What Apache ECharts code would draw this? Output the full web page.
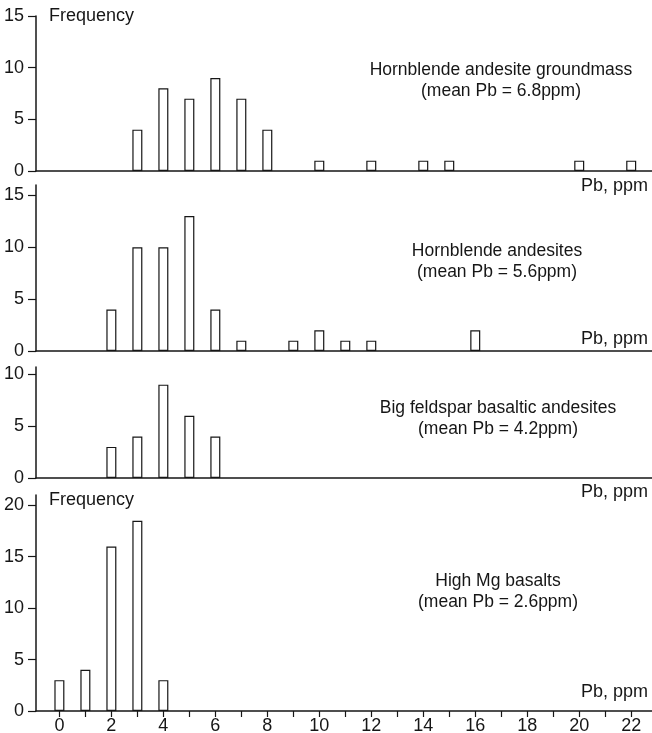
<!DOCTYPE html>
<html>
<head>
<meta charset="utf-8">
<title>Pb frequency distributions</title>
<script src="https://cdn.jsdelivr.net/npm/echarts@6/dist/echarts.min.js"></script>
<style>
  html, body { margin: 0; padding: 0; background: #ffffff; }
  #chart { width: 652px; height: 733px; }
</style>
</head>
<body>
<div id="chart"></div>
<script>
// Pb content (ppm) classes and their sample counts, one pair of arrays per rock group
const groundmassPb   = [3, 4, 5, 6, 7, 8, 10, 12, 14, 15, 20, 22];
const groundmassFreq = [4, 8, 7, 9, 7, 4, 1, 1, 1, 1, 1, 1];

const hornblendePb   = [2, 3, 4, 5, 6, 7, 9, 10, 11, 12, 16];
const hornblendeFreq = [4, 10, 10, 13, 4, 1, 1, 2, 1, 1, 2];

const feldsparPb     = [2, 3, 4, 5, 6];
const feldsparFreq   = [3, 4, 9, 6, 4];

const highMgPb       = [0, 1, 2, 3, 4];
const highMgFreq     = [3, 4, 16, 18.5, 3];

const panelTitles = [
  ['Hornblende andesite groundmass', '(mean Pb = 6.8ppm)'],
  ['Hornblende andesites', '(mean Pb = 5.6ppm)'],
  ['Big feldspar basaltic andesites', '(mean Pb = 4.2ppm)'],
  ['High Mg basalts', '(mean Pb = 2.6ppm)']
];
const yTickValues = [[0, 5, 10, 15], [0, 5, 10, 15], [0, 5, 10], [0, 5, 10, 15, 20]];
const xLabelValues = [0, 2, 4, 6, 8, 10, 12, 14, 16, 18, 20, 22];
const xTickValues = [0, 1, 2, 3, 4, 5, 6, 7, 8, 9, 10, 11, 12, 13, 14, 15, 16, 17, 18, 19, 20, 21, 22];

const pbSets = [groundmassPb, hornblendePb, feldsparPb, highMgPb];
const freqSets = [groundmassFreq, hornblendeFreq, feldsparFreq, highMgFreq];

const INK = '#161616';
const FONT = '"Liberation Sans", Arial, Helvetica, sans-serif';

// panel layout: top / height of each plotting area and its frequency range
const panels = [
  { top: 16,  height: 155, yMax: 15 },
  { top: 185, height: 166, yMax: 16 },
  { top: 367, height: 111, yMax: 10.7 },
  { top: 495, height: 216, yMax: 21 }
];

// fixed plotting rectangles; labels are allowed to run to the canvas edge
const grid = panels.map(p => ({
  left: 36, right: 0, top: p.top, height: p.height,
  containLabel: false, outerBoundsMode: 'none'
}));

const xAxis = panels.map((p, i) => {
  const last = i === panels.length - 1;
  return {
    type: 'value', gridIndex: i, min: -0.9, max: 22.8,
    splitLine: { show: false },
    axisLine: { show: true, onZero: false, lineStyle: { color: INK, width: 1.5 } },
    axisTick: last
      ? { show: true, inside: false, length: 6, customValues: xTickValues, lineStyle: { color: INK, width: 1.2 } }
      : { show: false },
    axisLabel: last
      ? { show: true, customValues: xLabelValues, margin: 6, color: INK, fontSize: 18, fontFamily: FONT }
      : { show: false }
  };
});

const yAxis = panels.map((p, i) => ({
  type: 'value', gridIndex: i, min: 0, max: p.yMax,
  splitLine: { show: false },
  axisLine: { show: true, onZero: false, lineStyle: { color: INK, width: 1.5 } },
  axisTick: { show: true, length: 8, customValues: yTickValues[i], lineStyle: { color: INK, width: 1.2 } },
  axisLabel: { show: true, customValues: yTickValues[i], margin: 12, color: INK, fontSize: 18, fontFamily: FONT }
}));

const series = pbSets.map((pb, i) => ({
  type: 'bar',
  xAxisIndex: i, yAxisIndex: i,
  barWidth: 10,
  data: pb.map((v, k) => [v, freqSets[i][k]]),
  itemStyle: { color: '#ffffff', borderColor: INK, borderWidth: 1.2 },
  silent: true,
  animation: false
}));

// panel captions, axis names and the frequency headings
const captionPos = [
  { x: 501, y: 70 },
  { x: 497, y: 251 },
  { x: 498, y: 408 },
  { x: 498, y: 581 }
];
const unitPos = [186, 339, 492, 692];

const graphic = [];
panelTitles.forEach((lines, i) => {
  graphic.push({
    type: 'text', silent: true,
    style: {
      text: lines.join('\n'), x: captionPos[i].x, y: captionPos[i].y - 10,
      align: 'center', verticalAlign: 'top', lineHeight: 21,
      fill: INK, font: '17.5px ' + FONT
    }
  });
  graphic.push({
    type: 'text', silent: true,
    style: {
      text: 'Pb, ppm', x: 648, y: unitPos[i],
      align: 'right', verticalAlign: 'middle',
      fill: INK, font: '18px ' + FONT
    }
  });
});
[16, 500].forEach(y => {
  graphic.push({
    type: 'text', silent: true,
    style: {
      text: 'Frequency', x: 49, y: y,
      align: 'left', verticalAlign: 'middle',
      fill: INK, font: '18px ' + FONT
    }
  });
});

const chart = echarts.init(document.getElementById('chart'), null, { renderer: 'canvas' });
chart.setOption({
  backgroundColor: '#ffffff',
  animation: false,
  grid, xAxis, yAxis, series, graphic
});
</script>
</body>
</html>
